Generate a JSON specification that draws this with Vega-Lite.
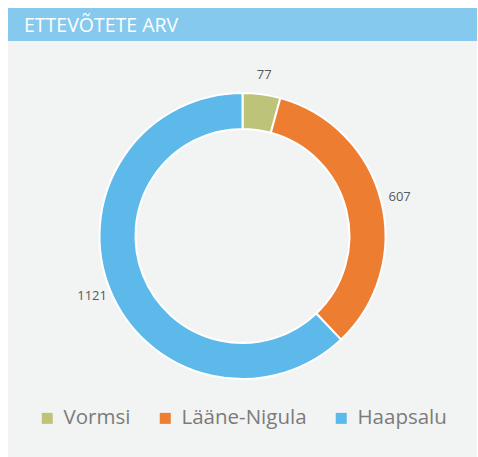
{
  "$schema": "https://vega.github.io/schema/vega-lite/v6.json",
  "background": "white",
  "padding": {"left": 8, "top": 8, "right": 1, "bottom": 0},
  "spacing": 0,
  "bounds": "flush",
  "config": {"view": {"stroke": null}, "font": "Open Sans"},
  "vconcat": [
    {
      "width": 469,
      "height": 33,
      "view": {"fill": "#85caee", "stroke": null},
      "data": {"values": [{"title": "ETTEVÕTETE ARV"}]},
      "mark": {"type": "text", "align": "left", "baseline": "middle", "dx": 16, "dy": 1, "fontSize": 19.5, "color": "white", "font": "Open Sans"},
      "encoding": {
        "x": {"datum": 0, "type": "quantitative", "scale": {"domain": [0, 1]}, "axis": null},
        "y": {"datum": 0.5, "type": "quantitative", "scale": {"domain": [0, 1]}, "axis": null},
        "text": {"field": "title"}
      }
    },
    {
      "width": 469,
      "height": 390,
      "view": {"fill": "#f2f3f3", "stroke": null},
      "data": {"values": [
        {"region": "Vormsi", "count": 77, "k": 1},
        {"region": "Lääne-Nigula", "count": 607, "k": 2},
        {"region": "Haapsalu", "count": 1121, "k": 3}
      ]},
      "encoding": {
        "theta": {"field": "count", "type": "quantitative", "stack": true},
        "order": {"field": "k", "type": "quantitative"},
        "color": {
          "field": "region", "type": "nominal",
          "scale": {"domain": ["Vormsi", "Lääne-Nigula", "Haapsalu"], "range": ["#bdc47a", "#ed7d31", "#5db9ea"]},
          "legend": {"orient": "none", "legendX": 29, "legendY": 400, "padding": 0, "direction": "horizontal", "title": null, "symbolType": "square", "symbolSize": 121, "symbolStrokeWidth": 0, "symbolOpacity": 1, "labelFontSize": 20.5, "labelColor": "#7b7b7b", "labelFont": "Open Sans", "columnPadding": 24, "labelOffset": 6}
        }
      },
      "layer": [
        {"mark": {"type": "arc", "outerRadius": 143, "innerRadius": 107, "stroke": "white", "strokeWidth": 2}},
        {"mark": {"type": "text", "radius": 162, "fontSize": 13, "fill": "#595959", "font": "Open Sans"},
         "encoding": {"text": {"field": "count", "type": "quantitative"}, "color": {"value": "#595959"}}}
      ]
    },
    {
      "width": 469,
      "height": 34,
      "view": {"fill": "#f2f3f3", "stroke": null},
      "data": {"values": []},
      "mark": {"type": "point", "opacity": 0}
    }
  ]
}
